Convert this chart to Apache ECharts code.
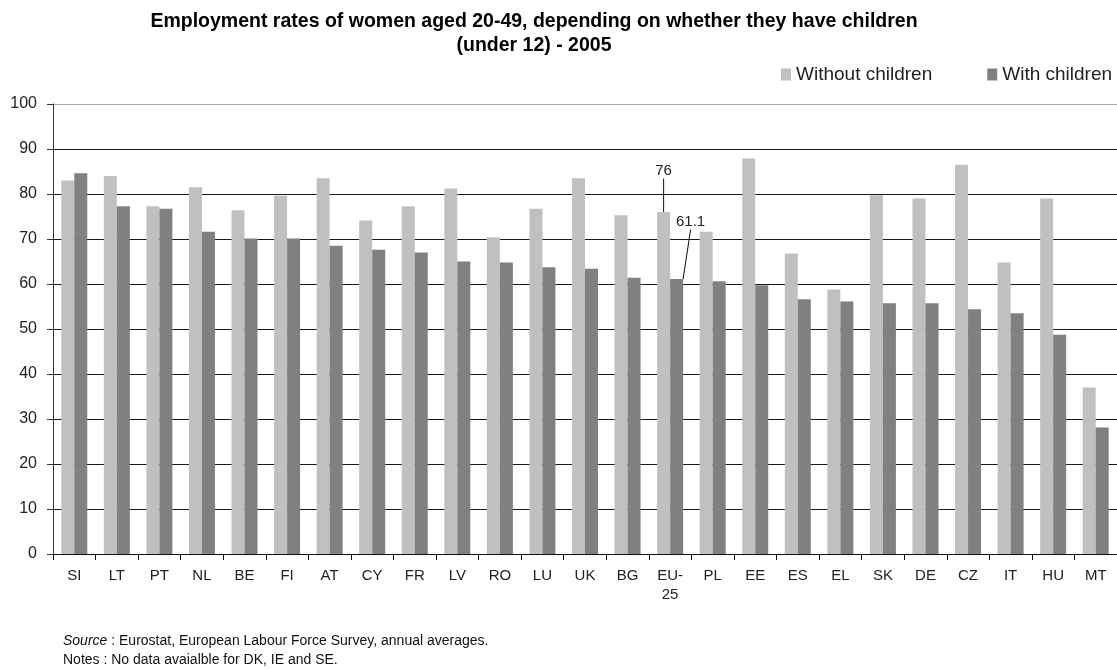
<!DOCTYPE html>
<html>
<head>
<meta charset="utf-8">
<title>Employment rates of women aged 20-49</title>
<script src="https://cdn.jsdelivr.net/npm/echarts@6/dist/echarts.min.js"></script>
<style>
  html, body { margin: 0; padding: 0; background: #fff; }
  #chart { width: 1117px; height: 669px; }
</style>
</head>
<body>
<div id="chart"></div>
<script>
// Countries, ordered by the employment rate of women with children
const countries = ['SI', 'LT', 'PT', 'NL', 'BE', 'FI', 'AT', 'CY', 'FR', 'LV', 'RO', 'LU', 'UK',
  'BG', 'EU-25', 'PL', 'EE', 'ES', 'EL', 'SK', 'DE', 'CZ', 'IT', 'HU', 'MT'];

// Employment rate (%) of women aged 20-49 without children under 12
const withoutChildren = [83.0, 84.0, 77.3, 81.5, 76.4, 79.6, 83.5, 74.1, 77.3, 81.2, 70.4, 76.7, 83.5,
  75.3, 76.0, 71.6, 87.9, 66.8, 58.8, 79.7, 79.0, 86.5, 64.8, 79.0, 37.0];

// Employment rate (%) of women aged 20-49 with children under 12
const withChildren = [84.6, 77.3, 76.7, 71.6, 70.1, 70.1, 68.5, 67.6, 67.0, 65.0, 64.8, 63.7, 63.4,
  61.4, 61.1, 60.6, 59.7, 56.6, 56.1, 55.7, 55.7, 54.4, 53.5, 48.7, 28.1];

// Value axis ticks
const yTicks = { min: 0, max: 100, interval: 10 };

// The EU-25 average carries a value callout on both bars
const calloutCategory = 'EU-25';

const FONT = '"Liberation Sans", Arial, sans-serif';
const calloutIndex = countries.indexOf(calloutCategory);

function barData(values) {
  return values.map((v, i) => i === calloutIndex
    ? { value: v, label: { show: true } }
    : v);
}

const chart = echarts.init(document.getElementById('chart'), null, { renderer: 'canvas' });

chart.setOption({
  animation: false,
  backgroundColor: '#ffffff',
  textStyle: { fontFamily: FONT },
  graphic: [
    {
      type: 'text',
      x: 534, y: 10,
      style: {
        text: 'Employment rates of women aged 20-49, depending on whether they have children\n(under 12) - 2005',
        align: 'center',
        verticalAlign: 'top',
        fontFamily: FONT,
        fontWeight: 'bold',
        fontSize: 19.5,
        lineHeight: 24,
        fill: '#000'
      }
    },
    {
      type: 'text',
      x: 63, y: 632,
      style: {
        text: '{i|Source} : Eurostat, European Labour Force Survey, annual averages.\nNotes : No data avaialble for DK, IE and SE.',
        verticalAlign: 'top',
        fontFamily: FONT,
        fontSize: 14,
        lineHeight: 19,
        fill: '#111',
        rich: {
          i: { fontStyle: 'italic', fontFamily: FONT, fontSize: 14, fill: '#111' }
        }
      }
    }
  ],
  legend: {
    left: 781,
    top: 65,
    padding: 0,
    icon: 'rect',
    itemWidth: 10,
    itemHeight: 12,
    itemGap: 55,
    textStyle: { fontFamily: FONT, fontSize: 19, color: '#222' },
    data: ['Without children', 'With children']
  },
  grid: {
    left: 53,
    right: 0,
    top: 104,
    bottom: 115,
    containLabel: false
  },
  xAxis: {
    type: 'category',
    data: countries,
    axisLine: { lineStyle: { color: '#111', width: 1 } },
    axisTick: { show: true, length: 6, lineStyle: { color: '#111' }, alignWithLabel: false },
    axisLabel: {
      margin: 12,
      fontFamily: FONT,
      fontSize: 15,
      color: '#222',
      lineHeight: 19,
      interval: 0,
      formatter: v => v === 'EU-25' ? 'EU-\n25' : v
    }
  },
  yAxis: {
    type: 'value',
    min: yTicks.min,
    max: yTicks.max,
    interval: yTicks.interval,
    axisLine: { show: true, lineStyle: { color: '#333', width: 1 } },
    axisTick: { show: true, length: 6, lineStyle: { color: '#333' } },
    axisLabel: { margin: 16, fontFamily: FONT, fontSize: 16, color: '#222' },
    splitLine: {
      show: true,
      lineStyle: {
        width: 1,
        color: ['#1a1a1a', '#1a1a1a', '#1a1a1a', '#1a1a1a', '#1a1a1a', '#1a1a1a',
          '#1a1a1a', '#1a1a1a', '#1a1a1a', '#1a1a1a', '#a6a6a6']
      }
    }
  },
  series: [
    {
      name: 'Without children',
      type: 'bar',
      data: barData(withoutChildren),
      barWidth: 13,
      barGap: '0%',
      itemStyle: { color: '#c0c0c0' },
      label: {
        show: false,
        position: 'top',
        fontFamily: FONT,
        fontSize: 15,
        color: '#222'
      },
      labelLine: { show: true, lineStyle: { color: '#111', width: 1 } },
      labelLayout: function (p) {
        if (p.dataIndex !== calloutIndex) return {};
        const r = p.rect;
        const cx = r.x + r.width / 2;
        return {
          x: cx, y: r.y - 41, align: 'center', verticalAlign: 'middle',
          labelLinePoints: [[cx, r.y - 30], [cx, r.y]]
        };
      }
    },
    {
      name: 'With children',
      type: 'bar',
      data: barData(withChildren),
      barWidth: 13,
      barGap: '0%',
      itemStyle: { color: '#808080' },
      label: {
        show: false,
        position: 'top',
        fontFamily: FONT,
        fontSize: 15,
        color: '#222'
      },
      labelLine: { show: true, lineStyle: { color: '#111', width: 1 } },
      labelLayout: function (p) {
        if (p.dataIndex !== calloutIndex) return {};
        const r = p.rect;
        const cx = r.x + r.width / 2;
        return {
          x: cx + 14, y: r.y - 57, align: 'center', verticalAlign: 'middle',
          labelLinePoints: [[cx + 4, r.y - 46], [cx + 1, r.y - 5]]
        };
      }
    }
  ]
});
</script>
</body>
</html>
